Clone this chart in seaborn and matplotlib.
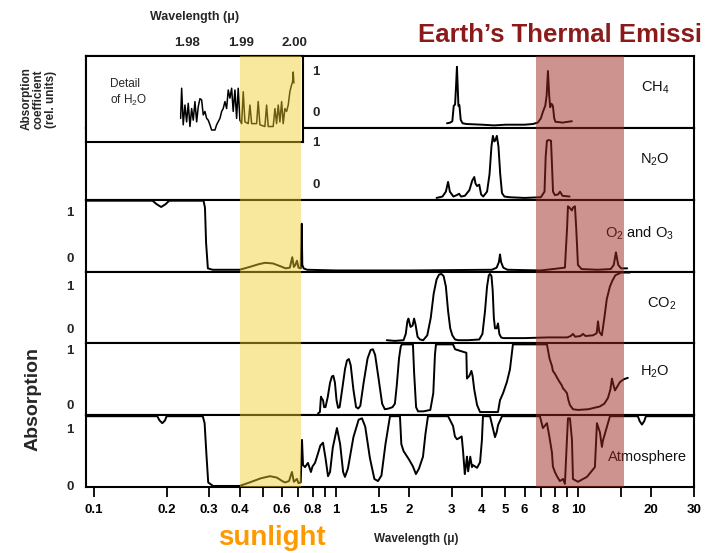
import matplotlib.pyplot as plt
import matplotlib.transforms as mtransforms
from matplotlib.patches import Rectangle
from matplotlib.ticker import NullLocator
import seaborn as sns

# Absorción relativa (0..1) frente a longitud de onda (micras)
ch4_wl = [2.87, 2.96, 3.02, 3.06, 3.10, 3.13, 3.155, 3.18, 3.20, 3.23,
          3.27, 3.33, 3.45, 4.0, 4.5, 5.0, 5.5, 6.0, 6.5, 6.8,
          7.0, 7.15, 7.3, 7.4, 7.49, 7.58, 7.65, 7.75, 7.85, 7.95,
          8.05, 8.2, 8.6, 9.4]
ch4_abs = [0.05, 0.06, 0.08, 0.30, 0.32, 0.60, 0.86, 0.55, 0.30, 0.31,
           0.10, 0.05, 0.04, 0.03, 0.02, 0.03, 0.03, 0.03, 0.04, 0.06,
           0.12, 0.22, 0.30, 0.45, 0.80, 0.45, 0.28, 0.33, 0.30, 0.12,
           0.07, 0.07, 0.06, 0.08]

n2o_wl = [2.6, 2.75, 2.84, 2.90, 2.95, 3.05, 3.15, 3.22, 3.28, 3.4,
          3.55, 3.65, 3.72, 3.76, 3.82, 3.9, 3.97, 4.05, 4.2, 4.3,
          4.38, 4.44, 4.5, 4.55, 4.61, 4.68, 4.76, 4.84, 4.95, 5.2,
          6.0, 7.0, 7.25, 7.33, 7.42, 7.55, 7.71, 7.78, 7.86, 8.0,
          8.25, 8.4, 8.6, 9.2]
n2o_abs = [0.01, 0.03, 0.10, 0.24, 0.10, 0.03, 0.05, 0.07, 0.03, 0.04,
           0.12, 0.26, 0.31, 0.22, 0.18, 0.20, 0.06, 0.03, 0.10, 0.35,
           0.75, 0.90, 0.82, 0.84, 0.90, 0.75, 0.35, 0.08, 0.03, 0.02,
           0.01, 0.02, 0.10, 0.60, 0.83, 0.84, 0.83, 0.50, 0.10, 0.05,
           0.06, 0.10, 0.04, 0.03]

o3_wl = [0.093, 0.175, 0.182, 0.19, 0.198, 0.205, 0.284, 0.288, 0.291, 0.296,
         0.31, 0.4, 0.44, 0.48, 0.51, 0.55, 0.59, 0.62, 0.645, 0.66,
         0.67, 0.68, 0.69, 0.70, 0.715, 0.722, 0.726, 0.735, 0.76, 1.0,
         2.0, 4.4, 4.6, 4.7, 4.75, 4.8, 4.9, 5.1, 7.0, 8.8,
         8.98, 9.06, 9.2, 9.4, 9.5, 9.68, 9.8, 9.96, 10.3, 12.0,
         13.6, 14.0, 14.29, 14.6, 15.0, 15.9]
o3_abs = [1.0, 1.0, 0.95, 0.91, 0.95, 1.0, 1.0, 0.90, 0.40, 0.03,
          0.01, 0.01, 0.05, 0.09, 0.11, 0.10, 0.06, 0.03, 0.04, 0.19,
          0.05, 0.08, 0.14, 0.04, 0.03, 0.67, 0.08, 0.03, 0.01, 0.0,
          0.0, 0.01, 0.04, 0.12, 0.23, 0.12, 0.04, 0.01, 0.0, 0.04,
          0.60, 0.92, 0.90, 0.86, 0.90, 0.92, 0.60, 0.08, 0.02, 0.01,
          0.02, 0.08, 0.26, 0.08, 0.03, 0.03]

co2_wl = [1.62, 1.75, 1.9, 1.94, 1.97, 1.99, 2.03, 2.07, 2.10, 2.13,
          2.17, 2.22, 2.29, 2.38, 2.46, 2.53, 2.6, 2.66, 2.72, 2.78,
          2.84, 2.9, 2.96, 3.02, 3.1, 3.2, 3.5, 3.9, 4.02, 4.12,
          4.2, 4.27, 4.32, 4.38, 4.43, 4.48, 4.53, 4.6, 4.66, 4.72,
          4.8, 4.9, 5.2, 6.0, 7.5, 9.0, 9.3, 9.5, 9.7, 10.2,
          10.45, 10.7, 11.5, 11.9, 12.05, 12.2, 12.5, 12.8, 13.1, 13.5,
          13.8, 14.2, 15.0, 16.3]
co2_abs = [0.03, 0.02, 0.03, 0.12, 0.30, 0.34, 0.22, 0.24, 0.34, 0.25,
           0.08, 0.04, 0.03, 0.10, 0.35, 0.70, 0.90, 0.97, 0.98, 0.95,
           0.80, 0.45, 0.20, 0.10, 0.04, 0.03, 0.03, 0.04, 0.12, 0.45,
           0.80, 0.96, 0.98, 0.95, 0.75, 0.35, 0.20, 0.20, 0.27, 0.12,
           0.07, 0.06, 0.06, 0.06, 0.07, 0.07, 0.09, 0.12, 0.08, 0.09,
           0.12, 0.09, 0.10, 0.13, 0.30, 0.15, 0.10, 0.35, 0.62, 0.80,
           0.88, 0.96, 1.0, 1.0]

h2o_wl = [0.843, 0.858, 0.867, 0.875, 0.884, 0.893, 0.905, 0.925, 0.945, 0.962,
          0.975, 0.99, 1.005, 1.02, 1.035, 1.06, 1.09, 1.11, 1.13, 1.15,
          1.18, 1.21, 1.235, 1.26, 1.30, 1.35, 1.39, 1.42, 1.45, 1.50,
          1.55, 1.59, 1.65, 1.71, 1.75, 1.78, 1.82, 1.85, 1.87, 2.077,
          2.10, 2.14, 2.18, 2.30, 2.45, 2.52, 2.56, 2.585, 3.04, 3.10,
          3.30, 3.45, 3.47, 3.55, 3.62, 3.66, 3.72, 3.82, 3.93, 4.66,
          4.75, 4.89, 5.07, 5.22, 5.37, 7.42, 7.60, 7.78, 7.85, 8.00,
          8.30, 8.55, 8.64, 8.80, 8.97, 9.10, 9.23, 9.50, 9.96, 11.0,
          12.27, 12.8, 13.24, 13.55, 13.76, 13.95, 14.16, 14.5, 14.85, 15.4,
          16.0]
h2o_abs = [0.01, 0.03, 0.25, 0.22, 0.20, 0.10, 0.10, 0.25, 0.45, 0.54,
           0.55, 0.45, 0.20, 0.09, 0.10, 0.35, 0.65, 0.77, 0.79, 0.70,
           0.35, 0.10, 0.08, 0.12, 0.45, 0.80, 0.92, 0.93, 0.85, 0.50,
           0.15, 0.07, 0.08, 0.10, 0.15, 0.40, 0.80, 0.97, 1.0, 1.0,
           0.60, 0.10, 0.04, 0.04, 0.06, 0.30, 0.85, 1.0, 1.0, 0.93,
           0.90, 0.88, 0.51, 0.55, 0.62, 0.55, 0.35, 0.13, 0.03, 0.03,
           0.20, 0.30, 0.46, 0.64, 1.0, 1.0, 0.80, 0.69, 0.62, 0.58,
           0.48, 0.41, 0.37, 0.34, 0.30, 0.20, 0.13, 0.07, 0.06, 0.07,
           0.11, 0.15, 0.23, 0.35, 0.51, 0.42, 0.34, 0.40, 0.46, 0.50,
           0.52]

atm_wl = [0.093, 0.183, 0.187, 0.192, 0.197, 0.200, 0.282, 0.287, 0.292, 0.297,
          0.311, 0.40, 0.44, 0.49, 0.534, 0.57, 0.60, 0.616, 0.64, 0.658,
          0.67, 0.69, 0.70, 0.715, 0.724, 0.731, 0.745, 0.766, 0.788, 0.80,
          0.819, 0.84, 0.862, 0.884, 0.905, 0.927, 0.945, 0.97, 1.009, 1.04,
          1.07, 1.089, 1.12, 1.18, 1.24, 1.28, 1.32, 1.38, 1.44, 1.49,
          1.54, 1.60, 1.67, 1.836, 1.86, 1.90, 1.925, 2.00, 2.077, 2.137,
          2.20, 2.285, 2.34, 2.396, 2.90, 3.04, 3.095, 3.155, 3.20, 3.30,
          3.34, 3.40, 3.44, 3.47, 3.51, 3.58, 3.64, 3.67, 3.82, 3.93,
          4.00, 4.04, 4.32, 4.41, 4.53, 4.61, 4.66, 4.84, 6.94, 7.14,
          7.42, 7.60, 7.78, 7.85, 8.00, 8.16, 8.39, 8.64, 8.80, 8.97,
          9.06, 9.23, 9.41, 9.50, 9.96, 10.85, 11.70, 11.93, 12.27, 12.51,
          12.63, 13.50, 17.6, 17.9, 18.3, 18.7, 19.0, 30.0]
atm_abs = [1.0, 1.0, 0.94, 0.90, 0.94, 1.0, 1.0, 0.90, 0.45, 0.05,
           0.0, 0.0, 0.05, 0.11, 0.14, 0.12, 0.07, 0.05, 0.07, 0.20,
           0.06, 0.10, 0.04, 0.05, 0.66, 0.30, 0.27, 0.33, 0.20, 0.28,
           0.33, 0.45, 0.58, 0.62, 0.40, 0.14, 0.20, 0.55, 0.83, 0.60,
           0.20, 0.13, 0.25, 0.70, 0.95, 0.97, 0.85, 0.40, 0.10, 0.07,
           0.15, 0.60, 1.0, 1.0, 0.60, 0.50, 0.47, 0.38, 0.28, 0.17,
           0.25, 0.42, 0.75, 1.0, 1.0, 0.86, 0.71, 0.67, 0.68, 0.71,
           0.52, 0.17, 0.30, 0.42, 0.21, 0.42, 0.27, 0.30, 0.26, 0.34,
           0.66, 1.0, 1.0, 0.87, 0.70, 0.78, 0.87, 1.0, 1.0, 0.83,
           0.90, 0.70, 0.48, 0.28, 0.20, 0.14, 0.07, 0.10, 0.03, 0.66,
           0.97, 0.97, 0.66, 0.10, 0.06, 0.13, 0.27, 0.90, 0.77, 0.56,
           0.65, 1.0, 1.0, 0.93, 0.88, 0.93, 1.0, 1.0]

# Detalle de H2O (1.98 - 2.00 micras)
detail_wl = [1.97883, 1.97902, 1.97931, 1.97963, 1.97994, 1.98024, 1.98056, 1.98087, 1.98117, 1.98148,
             1.98180, 1.98209, 1.98241, 1.98272, 1.98302, 1.98333, 1.98365, 1.98394, 1.98426, 1.98457,
             1.98519, 1.98550, 1.98611, 1.98643, 1.98672, 1.98704, 1.98735, 1.98765, 1.98796, 1.98828,
             1.98857, 1.98889, 1.98920, 1.98950, 1.98981, 1.99013, 1.99043, 1.99074, 1.99135, 1.99167,
             1.99198, 1.99291, 1.99320, 1.99352, 1.99444, 1.99476, 1.99506, 1.99598, 1.99630, 1.99661,
             1.99691, 1.99722, 1.99754, 1.99783, 1.99815, 1.99846, 1.99876, 1.99907, 1.99939, 1.99957,
             1.99969, 1.99981]
detail_abs = [0.20, 0.72, 0.09, 0.43, 0.14, 0.46, 0.06, 0.37, 0.17, 0.49,
              0.14, 0.40, 0.54, 0.52, 0.26, 0.32, 0.20, 0.17, 0.09, 0.00,
              0.00, 0.09, 0.20, 0.32, 0.37, 0.49, 0.37, 0.69, 0.55, 0.72,
              0.32, 0.69, 0.20, 0.72, 0.17, 0.11, 0.66, 0.14, 0.11, 0.43,
              0.11, 0.11, 0.49, 0.09, 0.06, 0.43, 0.06, 0.06, 0.37, 0.11,
              0.43, 0.14, 0.49, 0.11, 0.37, 0.32, 0.43, 0.66, 0.78, 0.83,
              1.00, 0.81]

panel_names = ["CH$_4$", "N$_2$O", "O$_2$ and O$_3$", "CO$_2$", "H$_2$O", "Atmosphere"]
panel_wl = [ch4_wl, n2o_wl, o3_wl, co2_wl, h2o_wl, atm_wl]
panel_abs = [ch4_abs, n2o_abs, o3_abs, co2_abs, h2o_abs, atm_abs]

tick_pos = [0.1, 0.2, 0.3, 0.4, 0.5, 0.6, 0.7, 0.8, 0.9, 1, 1.5, 2, 3, 4, 5, 6, 7, 8, 9, 10, 15, 20, 30]
tick_lbl = ['0.1', '0.2', '0.3', '0.4', '', '0.6', '', '0.8', '', '1', '1.5', '2', '3', '4', '5', '6',
            '', '8', '', '10', '', '20', '30']
detail_ticks = [1.98, 1.99, 2.00]

sunlight_band = (0.4, 0.72)
thermal_band = (6.7, 15.4)

# posiciones de las etiquetas dentro de cada panel (fracción de ejes)
name_pos = [(0.936, 0.556), (0.936, 0.55), (0.911, 0.534), (0.947, 0.548), (0.936, 0.606), (0.923, 0.42)]
label_x = [0.378, 0.378, -0.026, -0.026, -0.026, -0.026]
label_y = [(0.78, 0.21), (0.79, 0.20), (0.82, 0.18), (0.79, 0.18), (0.89, 0.13), (0.80, 0.0)]

sns.set_theme(style="white")
plt.rcParams['font.family'] = ['Liberation Sans', 'DejaVu Sans']
plt.rcParams['mathtext.fontset'] = 'custom'
plt.rcParams['mathtext.rm'] = 'Liberation Sans'
plt.rcParams['mathtext.it'] = 'Liberation Sans:italic'
plt.rcParams['mathtext.bf'] = 'Liberation Sans:bold'

W, H = 707, 553
fig = plt.figure(figsize=(W / 100, H / 100), dpi=100)
fig.patch.set_facecolor('white')

left, width = 86 / W, 608 / W
top = 1 - 56 / H
ph = (431 / 6) / H

axes = []
for i in range(6):
    ax = fig.add_axes([left, top - (i + 1) * ph, width, ph])
    sns.lineplot(x=panel_wl[i], y=panel_abs[i], ax=ax, color='black', linewidth=1.4,
                 sort=False, estimator=None)
    ax.set_xscale('log')
    ax.set_xlim(0.093, 30)
    ax.set_ylim(-0.015, 1.015)
    ax.set_yticks([])
    ax.xaxis.set_minor_locator(NullLocator())
    ax.set_xlabel('')
    ax.set_ylabel('')
    for s in ax.spines.values():
        s.set_color('black')
        s.set_linewidth(1.5)
    ax.text(name_pos[i][0], name_pos[i][1], panel_names[i], transform=ax.transAxes,
            ha='center', va='center', fontsize=10.5, color='#111111')
    ax.text(label_x[i], label_y[i][0], '1', transform=ax.transAxes, ha='center', va='center',
            fontsize=9.5, fontweight='bold')
    ax.text(label_x[i], label_y[i][1], '0', transform=ax.transAxes, ha='center', va='center',
            fontsize=9.5, fontweight='bold')
    if i < 5:
        ax.set_xticks([])
    axes.append(ax)

axb = axes[-1]
axb.set_xticks(tick_pos, tick_lbl)
axb.xaxis.set_minor_locator(NullLocator())
axb.tick_params(axis='x', which='major', bottom=True, direction='out', length=7, width=1.3,
                pad=5, labelsize=9.5, colors='black')
for lbl in axb.get_xticklabels():
    lbl.set_fontweight('bold')

# recuadro con el detalle de H2O
axi = fig.add_axes([left, 1 - 142 / H, 217 / W, 86 / H], zorder=3)
axi.set_facecolor('white')
sns.lineplot(x=detail_wl, y=detail_abs, ax=axi, color='black', linewidth=1.1,
             sort=False, estimator=None)
axi.set_xlim(1.9613, 2.0015)
axi.set_ylim(-0.207, 1.276)
axi.set_yticks([])
axi.set_ylabel('')
axi.xaxis.tick_top()
axi.set_xticks(detail_ticks, ['1.98', '1.99', '2.00'])
axi.tick_params(axis='x', top=True, bottom=False, length=0, pad=5, labelsize=9.5,
                labeltop=True, labelbottom=False)
for lbl in axi.get_xticklabels():
    lbl.set_fontweight('bold')
axi.xaxis.set_label_position('top')
axi.set_xlabel('Wavelength (μ)', fontsize=9, fontweight='bold', labelpad=12)
for s in axi.spines.values():
    s.set_color('black')
    s.set_linewidth(1.5)
axi.text(0.11, 0.57, 'Detail\nof H$_2$O', transform=axi.transAxes, ha='left', va='center',
         fontsize=8.5, linespacing=1.3)

# bandas de luz solar y emisión térmica
trans = mtransforms.blended_transform_factory(axb.transData, fig.transFigure)
y0 = 1 - 487 / H
hh = 431 / H
fig.add_artist(Rectangle((sunlight_band[0], y0), sunlight_band[1] - sunlight_band[0], hh,
                         transform=trans, facecolor='#f0cd28', alpha=0.45, edgecolor='none', zorder=5))
fig.add_artist(Rectangle((thermal_band[0], y0), thermal_band[1] - thermal_band[0], hh,
                         transform=trans, facecolor='#9c2a20', alpha=0.5, edgecolor='none', zorder=5))

fig.text(418 / W, 1 - 42 / H, 'Earth’s Thermal Emissi', color='#8b1a1a', fontsize=18.5,
         fontweight='bold', ha='left', va='baseline')
fig.text(272 / W, 1 - 545 / H, 'sunlight', color='#ff9900', fontsize=20, fontweight='bold',
         ha='center', va='baseline')
fig.text(416 / W, 1 - 539 / H, 'Wavelength (μ)', fontsize=8.5, fontweight='bold',
         ha='center', va='center')
fig.text(33 / W, 1 - 399 / H, 'Absorption', rotation=90, fontsize=14, fontweight='bold',
         ha='center', va='center')
fig.text(39 / W, 1 - 99 / H, 'Absorption\ncoefficient\n(rel. units)', rotation=90, fontsize=8.5,
         fontweight='bold', ha='center', va='center', linespacing=1.05, multialignment='center')

fig.savefig('out.png', dpi=100)
plt.close()
